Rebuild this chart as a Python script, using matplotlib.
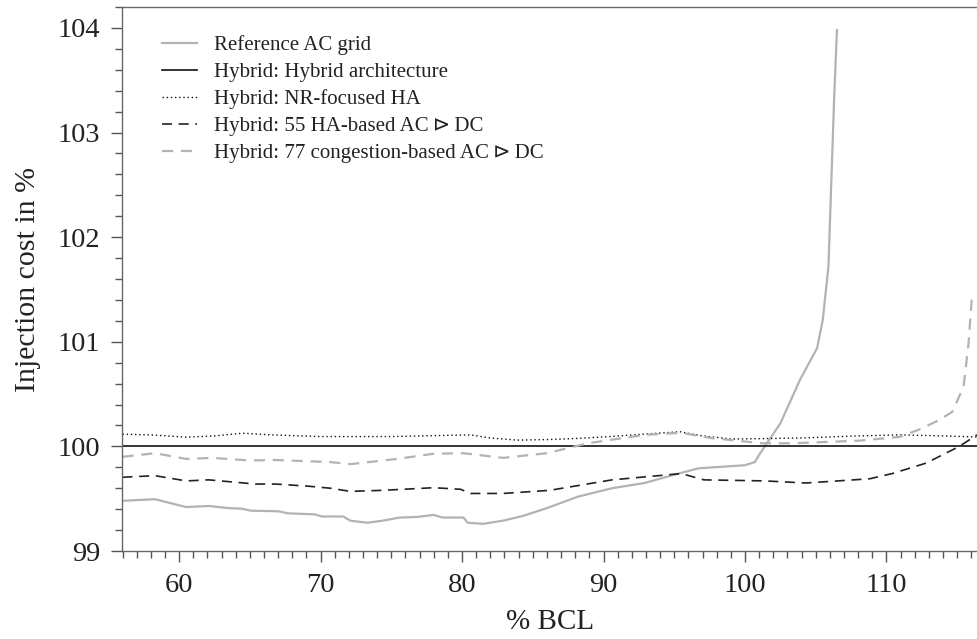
import matplotlib
matplotlib.use("Agg")
import matplotlib.pyplot as plt
from matplotlib.ticker import MultipleLocator

# ---- data ----
ref_x = [56, 58.3, 60.5, 62.1, 63.5, 64.4, 65.1, 67.0, 67.7, 69.6, 70.1, 71.6, 72.1, 73.3,
         74.4, 75.6, 76.8, 78.0, 78.6, 80.1, 80.4, 81.5, 82.9, 84.3, 86.0, 88.2, 90.6, 92.9,
         95.3, 96.7, 100.0, 100.7, 101.05, 101.4, 102.5, 103.9, 105.1, 105.5, 105.9, 106.1,
         106.3, 106.5]
ref_y = [99.48, 99.495, 99.42, 99.43, 99.41, 99.405, 99.385, 99.38, 99.36, 99.35, 99.33, 99.33,
         99.29, 99.27, 99.29, 99.32, 99.325, 99.345, 99.32, 99.32, 99.27, 99.26, 99.29, 99.335,
         99.41, 99.52, 99.60, 99.65, 99.74, 99.79, 99.82, 99.85, 99.93, 100.0, 100.22, 100.64,
         100.94, 101.21, 101.72, 102.52, 103.32, 103.98]

hyb_x = [56, 116.4]
hyb_y = [100.0, 100.0]

nr_x = [56, 58, 60.5, 62.5, 64.5, 66.5, 70, 75, 80.6, 82, 83.9, 86, 88, 90, 92.1, 95.4, 97,
        99.1, 103.9, 108, 111, 114, 116.4]
nr_y = [100.117, 100.11, 100.088, 100.10, 100.126, 100.11, 100.094, 100.094, 100.11, 100.08,
        100.06, 100.065, 100.075, 100.09, 100.11, 100.14, 100.10, 100.07, 100.08, 100.10,
        100.11, 100.10, 100.09]

ha_x = [56, 58.3, 60.5, 62.1, 65.4, 66.8, 69.1, 70.7, 72.1, 74.4, 78, 79.9, 80.6, 82.9, 86.2,
        90.6, 95.5, 97.1, 101.4, 104.3, 108.8, 110.4, 112.8, 115.15, 116.4]
ha_y = [99.705, 99.72, 99.67, 99.68, 99.64, 99.64, 99.62, 99.60, 99.57, 99.58, 99.605, 99.59,
        99.55, 99.55, 99.58, 99.68, 99.74, 99.68, 99.67, 99.65, 99.69, 99.74, 99.84, 100.0,
        100.11]

cg_x = [56, 58.3, 60.5, 62.4, 65, 66.8, 68.7, 70.7, 72.1, 75.4, 78, 80.1, 82.9, 86.0, 88.9,
        92.9, 95.5, 97.6, 101.2, 103.4, 108.1, 110.9, 112.3, 113.7, 114.65, 115.45, 115.8,
        116.05]
cg_y = [99.90, 99.935, 99.88, 99.89, 99.865, 99.87, 99.86, 99.85, 99.83, 99.88, 99.93, 99.935,
        99.89, 99.935, 100.03, 100.11, 100.13, 100.08, 100.03, 100.03, 100.055, 100.09, 100.16,
        100.25, 100.33, 100.57, 100.98, 101.45]

labels = ["Reference AC grid",
          "Hybrid: Hybrid architecture",
          "Hybrid: NR-focused HA",
          "Hybrid: 55 HA-based AC\u2009\u22b3\u2009DC",
          "Hybrid: 77 congestion-based AC\u2009\u22b3\u2009DC"]

plt.rcParams['font.family'] = ['Liberation Serif', 'DejaVu Serif', 'DejaVu Sans']

fig = plt.figure(figsize=(9.77, 6.39), dpi=100)
ax = fig.add_axes([122.5 / 977, 1 - 551 / 639, 1 - 122.5 / 977, (551 - 7) / 639])

gray = "#b3b3b3"
ax.plot(ref_x, ref_y, color=gray, lw=1.6, label=labels[0])
ax.plot(hyb_x, hyb_y, color="#111111", lw=1.2, label=labels[1])
ax.plot(nr_x, nr_y, color="#111111", lw=1.0, linestyle=(0, (1, 2)), label=labels[2])
ax.plot(ha_x, ha_y, color="#222222", lw=1.2, linestyle=(0, (6, 4)), label=labels[3])
ax.plot(cg_x, cg_y, color=gray, lw=1.6, linestyle=(0, (5, 3.5)), label=labels[4])

ax.set_xlim(56, 116.4)
ax.set_ylim(99, 104.2)
ax.xaxis.set_major_locator(MultipleLocator(10))
ax.xaxis.set_minor_locator(MultipleLocator(1))
ax.yaxis.set_major_locator(MultipleLocator(1))
ax.yaxis.set_minor_locator(MultipleLocator(0.2))

for s in ["left", "bottom", "top"]:
    ax.spines[s].set_color("#666666")
    ax.spines[s].set_linewidth(1.0)
ax.spines["right"].set_visible(False)

ax.tick_params(which="major", direction="out", length=8, width=1.0, color="#555555",
               labelsize=20.5, pad=8, labelcolor="#222222")
ax.tick_params(which="minor", direction="out", length=5, width=1.0, color="#555555")

ax.set_xlabel("% BCL", fontsize=21, color="#222222", labelpad=8)
ax.set_ylabel("Injection cost in %", fontsize=21.5, color="#222222", labelpad=12)

leg = ax.legend(loc="upper left", bbox_to_anchor=(0.036, 0.964), frameon=False,
                fontsize=15, handlelength=1.7, handletextpad=0.8, labelspacing=0.36,
                borderaxespad=0)
for t in leg.get_texts():
    t.set_color("#222222")

fig.savefig("out.png", dpi=100)
